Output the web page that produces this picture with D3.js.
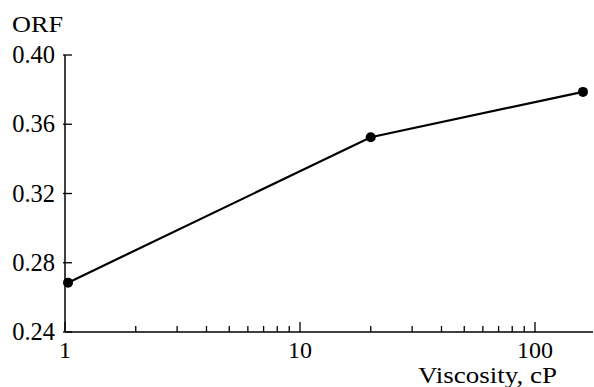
<!DOCTYPE html>
<html>
<head>
<meta charset="utf-8">
<script src="https://cdn.jsdelivr.net/npm/d3@7"></script>
<style>
  body { margin: 0; background: #fff; }
  svg text { font-family: "Times New Roman", "Liberation Serif", Times, serif; fill: #000; }
</style>
</head>
<body>
<div id="display"></div>
<script>
// Data
const viscosity = [1.03, 20, 160];
const orf = [0.2685, 0.3525, 0.3787];
const yTicks = [0.24, 0.28, 0.32, 0.36, 0.40];
const xMajor = [1, 10, 100];

const width = 594, height = 387;
const margin = { left: 65, right: 1, top: 55, bottom: 55 };

const svg = d3.select("#display").append("svg")
    .attr("width", width).attr("height", height);

const x = d3.scaleLog().domain([1, 10 ** ((593 - 65) / 235)]).range([margin.left, 593]);
const y = d3.scaleLinear().domain([0.24, 0.40]).range([height - margin.bottom, margin.top]);

// minor ticks for log axis
const xMinor = [];
for (let d = 1; d <= 100; d *= 10) {
    for (let k = 2; k <= 9; k++) {
        if (d * k < x.domain()[1]) xMinor.push(d * k);
    }
}

// X axis
const gx = svg.append("g").attr("transform", `translate(0,${y(0.24)})`);
gx.append("line").attr("x1", margin.left).attr("x2", 593)
    .attr("stroke", "#000").attr("stroke-width", 1.5);
gx.selectAll("line.major").data(xMajor).enter().append("line")
    .attr("x1", d => x(d)).attr("x2", d => x(d)).attr("y1", 0).attr("y2", -10)
    .attr("stroke", "#000").attr("stroke-width", 1.3);
gx.selectAll("line.minor").data(xMinor).enter().append("line")
    .attr("x1", d => x(d)).attr("x2", d => x(d)).attr("y1", 0).attr("y2", -6)
    .attr("stroke", "#000").attr("stroke-width", 1.3);
gx.selectAll("text").data(xMajor).enter().append("text")
    .attr("x", d => x(d)).attr("y", 26)
    .attr("text-anchor", "middle").attr("font-size", 24)
    .text(d => d);

// Y axis
const gy = svg.append("g").attr("transform", `translate(${margin.left},0)`);
gy.append("line").attr("y1", y(0.40)).attr("y2", y(0.24))
    .attr("stroke", "#000").attr("stroke-width", 1.5);
gy.selectAll("line.tick").data(yTicks).enter().append("line")
    .attr("x1", -2).attr("x2", 7).attr("y1", d => y(d)).attr("y2", d => y(d))
    .attr("stroke", "#000").attr("stroke-width", 1.3);
gy.selectAll("text").data(yTicks).enter().append("text")
    .attr("x", -10).attr("y", d => y(d) + 8)
    .attr("text-anchor", "end").attr("font-size", 24.5)
    .text(d => d3.format(".2f")(d));

// Axis titles
svg.append("text").attr("x", 12).attr("y", 32).attr("font-size", 23)
    .attr("textLength", 51).attr("lengthAdjust", "spacingAndGlyphs").text("ORF");
svg.append("text").attr("x", 418).attr("y", 383)
    .attr("font-size", 23).attr("textLength", 139).attr("lengthAdjust", "spacingAndGlyphs")
    .text("Viscosity, cP");

// Line and markers
const pts = viscosity.map((v, i) => [v, orf[i]]);
svg.append("path").datum(pts)
    .attr("fill", "none").attr("stroke", "#000").attr("stroke-width", 2.2)
    .attr("d", d3.line().x(d => x(d[0])).y(d => y(d[1])));
svg.selectAll("circle").data(pts).enter().append("circle")
    .attr("cx", d => x(d[0])).attr("cy", d => y(d[1])).attr("r", 5)
    .attr("fill", "#000");
</script>
</body>
</html>
